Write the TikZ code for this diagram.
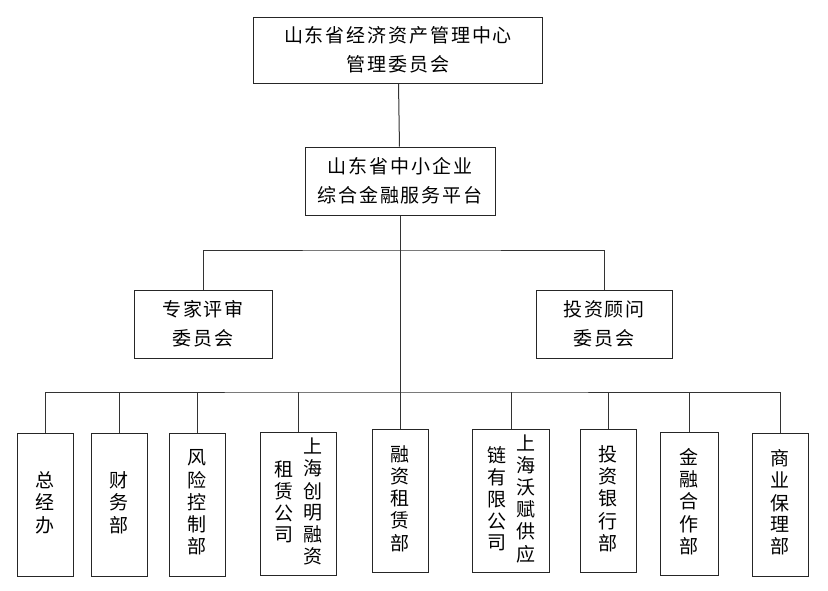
\documentclass[tikz,border=0pt]{standalone}
\usepackage{fontspec}
\setmainfont[LetterSpace=10]{Noto Sans CJK SC}
\usepackage{tikz}
\usetikzlibrary{positioning}

% one column of vertical text
\newcommand{\vcol}[1]{\begin{tabular}[c]{@{}c@{}}#1\end{tabular}}

\begin{document}
\begin{tikzpicture}[x=1pt, y=-1pt,
    box/.style={draw=black!85, line width=1pt, inner sep=0pt, align=center, font=\fontsize{19}{29}\selectfont},
    dept/.style={draw=black!85, line width=1pt, inner sep=0pt, minimum width=56pt, minimum height=143pt, font=\fontsize{19}{21}\selectfont},
    link/.style={draw=black!80, line width=1pt}]
    \useasboundingbox (0,0) rectangle (828,590);

    \node[box, minimum width=289pt, minimum height=66pt] (board) at (398,50) {山东省经济资产管理中心\\管理委员会};
    \node[box, minimum width=190pt, minimum height=68pt] (platform) at (400,181) {山东省中小企业\\综合金融服务平台};
    \node[box, minimum width=138pt, minimum height=68pt] (expert) at (203,324) {专家评审\\委员会};
    \node[box, minimum width=136pt, minimum height=68pt] (advisor) at (604,324) {投资顾问\\委员会};

    \node[dept] (gm) at (45,505) {\vcol{总\\经\\办}};
    \node[dept] (finance) at (119,505) {\vcol{财\\务\\部}};
    \node[dept] (risk) at (197,505) {\vcol{风\\险\\控\\制\\部}};
    \node[dept, minimum width=76pt] (chuangming) at (298,504) {\vcol{租\\赁\\公\\司}\hspace{10pt}\vcol{上\\海\\创\\明\\融\\资}};
    \node[dept] (leasing) at (400,501) {\vcol{融\\资\\租\\赁\\部}};
    \node[dept, minimum width=77pt] (wofu) at (511,501) {\vcol{链\\有\\限\\公\\司}\hspace{10pt}\vcol{上\\海\\沃\\赋\\供\\应}};
    \node[dept] (ibank) at (608,501) {\vcol{投\\资\\银\\行\\部}};
    \node[dept, minimum width=58pt] (coop) at (689,504) {\vcol{金\\融\\合\\作\\部}};
    \node[dept] (factoring) at (780,505) {\vcol{商\\业\\保\\理\\部}};

    \coordinate (fork) at (400,250);
    \coordinate (bus) at (400,392);

    \draw[link] (board) -- (platform);
    \draw[link] (platform) -- (leasing);
    \draw[link] (expert.north) |- (fork) -| (advisor.north);
    \draw[link] (gm.north) |- (bus) -| (factoring.north);
    \foreach \d in {finance, risk, chuangming, wofu, ibank, coop}
        \draw[link] (\d.north) -- (\d.north |- bus);
\end{tikzpicture}
\end{document}
